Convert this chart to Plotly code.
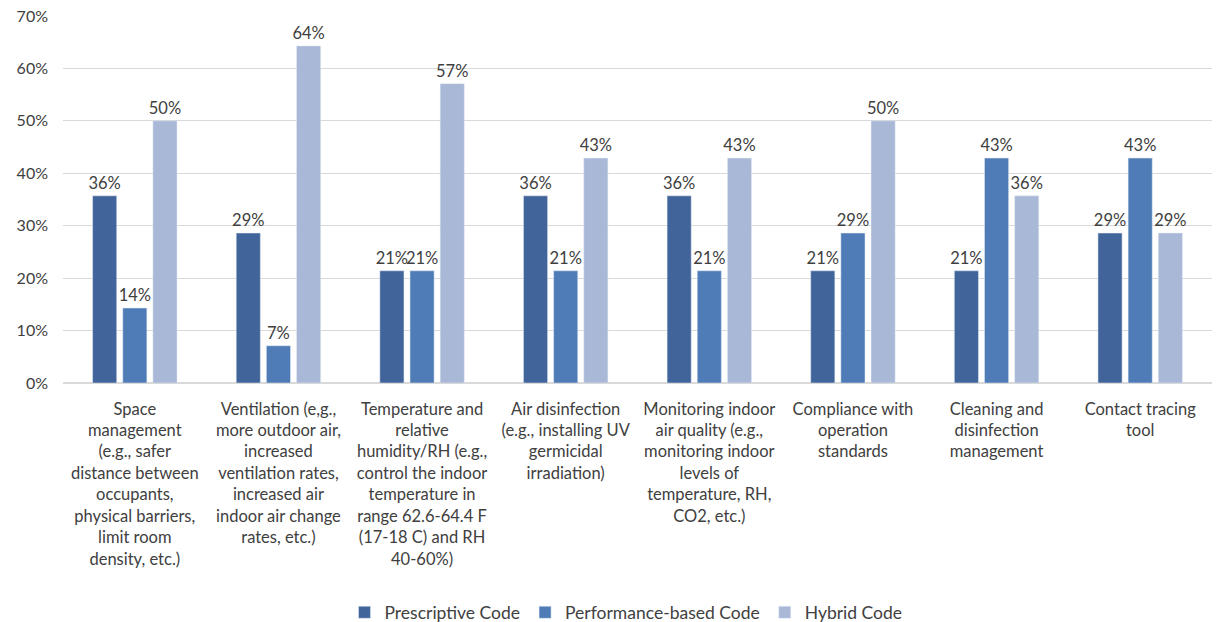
import plotly.graph_objects as go

categories = [
    "Space<br>management<br>(e.g., safer<br>distance between<br>occupants,<br>physical barriers,<br>limit room<br>density, etc.)",
    "Ventilation (e,g.,<br>more outdoor air,<br>increased<br>ventilation rates,<br>increased air<br>indoor air change<br>rates, etc.)",
    "Temperature and<br>relative<br>humidity/RH (e.g.,<br>control the indoor<br>temperature in<br>range 62.6-64.4 F<br>(17-18 C) and RH<br>40-60%)",
    "Air disinfection<br>(e.g., installing UV<br>germicidal<br>irradiation)",
    "Monitoring indoor<br>air quality (e.g.,<br>monitoring indoor<br>levels of<br>temperature, RH,<br>CO2, etc.)",
    "Compliance with<br>operation<br>standards",
    "Cleaning and<br>disinfection<br>management",
    "Contact tracing<br>tool",
]
prescriptive = [0.357, 0.286, 0.214, 0.357, 0.357, 0.214, 0.214, 0.286]
performance = [0.143, 0.071, 0.214, 0.214, 0.214, 0.286, 0.429, 0.429]
hybrid = [0.500, 0.643, 0.571, 0.429, 0.429, 0.500, 0.357, 0.286]

series = [
    ("Prescriptive Code", prescriptive, "#41649A"),
    ("Performance-based Code", performance, "#4F7CB7"),
    ("Hybrid Code", hybrid, "#A9B8D6"),
]

FONT = "Lato, Open Sans, sans-serif"
TXT = "#404040"

fig = go.Figure()
for name, vals, color in series:
    fig.add_trace(go.Bar(
        name=name, x=categories, y=vals, marker_color=color,
        text=[f"{v*100:.0f}%" for v in vals], textposition="outside",
        textfont=dict(family=FONT, size=16.5, color=TXT),
        constraintext="none",
        cliponaxis=False,
    ))

fig.update_layout(
    width=1219, height=622,
    barmode="group", bargap=0.37, bargroupgap=0.2,
    plot_bgcolor="white", paper_bgcolor="white",
    margin=dict(l=63, r=7, t=16, b=239, autoexpand=False),
    font=dict(family=FONT, size=15, color=TXT),
    legend=dict(orientation="h", x=0.49, xanchor="center", y=-0.625, yanchor="middle",
                font=dict(family=FONT, size=17.5, color=TXT), itemwidth=30,
                traceorder="normal"),
)
fig.update_yaxes(range=[0, 0.7], dtick=0.1, tickformat=".0%", showgrid=True,
                 gridcolor="#D9D9D9", gridwidth=1, zeroline=True, zerolinecolor="#D9D9D9",
                 showline=False, ticks="", ticklabelstandoff=14,
                 tickfont=dict(family=FONT, size=16, color=TXT))
fig.update_xaxes(showline=False, ticks="", tickangle=0, automargin=False,
                 ticklabelstandoff=14,
                 tickfont=dict(family=FONT, size=16.5, color=TXT))

fig.write_html("out.html")
